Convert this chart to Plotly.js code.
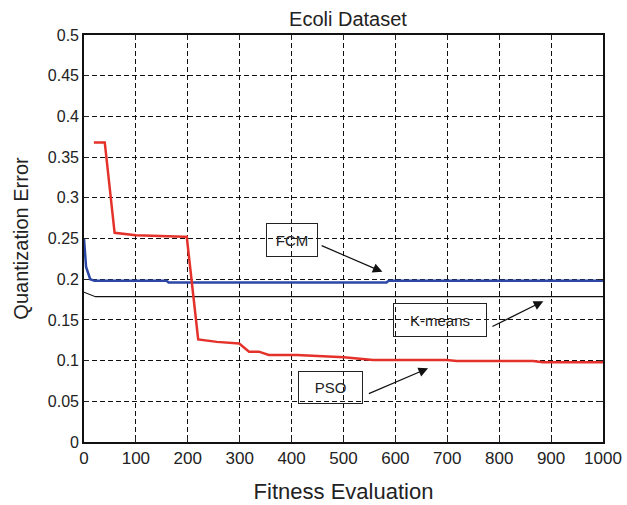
<!DOCTYPE html>
<html>
<head>
<meta charset="utf-8">
<script src="https://cdn.plot.ly/plotly-3.0.1.min.js"></script>
<style>html,body{margin:0;padding:0;background:#fff;}#chart{width:627px;height:505px;}</style>
</head>
<body>
<div id="chart"></div>
<script>
// Data
const psoX = [19, 40, 59, 100, 193, 198, 220, 256, 299, 318, 337, 356, 410, 449, 501, 557, 699, 718, 865, 884, 1000];
const psoY = [0.368, 0.368, 0.257, 0.254, 0.252, 0.252, 0.126, 0.123, 0.121, 0.111, 0.111, 0.107, 0.107, 0.1056, 0.104, 0.1007, 0.1007, 0.0995, 0.0995, 0.098, 0.098];
const fcmX = [0, 4, 12, 20, 159, 163, 583, 587, 1000];
const fcmY = [0.25, 0.215, 0.2, 0.198, 0.198, 0.196, 0.196, 0.198, 0.198];
const kmX = [0, 22, 1000];
const kmY = [0.184, 0.1785, 0.1785];
const xTicks = [0, 100, 200, 300, 400, 500, 600, 700, 800, 900, 1000];
const yTicks = [0, 0.05, 0.1, 0.15, 0.2, 0.25, 0.3, 0.35, 0.4, 0.45, 0.5];
const yTickText = ['0', '0.05', '0.1', '0.15', '0.2', '0.25', '0.3', '0.35', '0.4', '0.45', '0.5'];
const labels = [
  {name: 'FCM', x: 400, y: 0.2478, w: 50, h: 32, tipX: 575, tipY: 0.209, tailX: 455, tailY: 0.242},
  {name: 'K-means', x: 685, y: 0.1495, w: 92, h: 32, tipX: 885, tipY: 0.173, tailX: 784, tailY: 0.141},
  {name: 'PSO', x: 475.5, y: 0.0665, w: 63, h: 31, tipX: 663, tipY: 0.0905, tailX: 546, tailY: 0.0586}
];

const font = 'Liberation Sans, Arial, Helvetica, sans-serif';

const traces = [
  {x: fcmX, y: fcmY, mode: 'lines', line: {color: '#2c47a6', width: 2.5}, name: 'FCM'},
  {x: kmX, y: kmY, mode: 'lines', line: {color: '#111', width: 1.2}, name: 'K-means'},
  {x: psoX, y: psoY, mode: 'lines', line: {color: '#e4322b', width: 2.5}, name: 'PSO'}
];

const annotations = [];
labels.forEach(l => {
  annotations.push({
    x: l.x, y: l.y, xref: 'x', yref: 'y', text: l.name, showarrow: false,
    width: l.w, height: l.h, bordercolor: '#222', borderwidth: 1, borderpad: 0,
    font: {family: font, size: 15, color: '#222'}, xanchor: 'center', yanchor: 'middle'
  });
  annotations.push({
    x: l.tipX, y: l.tipY, xref: 'x', yref: 'y', ax: l.tailX, ay: l.tailY, axref: 'x', ayref: 'y',
    text: ' ', font: {size: 1}, showarrow: true, arrowhead: 2, arrowsize: 1.6, arrowwidth: 1.2,
    arrowcolor: '#111', standoff: 0, startstandoff: 0
  });
});

const layout = {
  width: 627, height: 505,
  margin: {l: 84, r: 24, t: 35, b: 63},
  paper_bgcolor: '#fff', plot_bgcolor: '#fff',
  showlegend: false,
  font: {family: font, color: '#222'},
  title: {text: 'Ecoli Dataset', font: {family: font, size: 20, color: '#222'}, x: 0.555, xanchor: 'center', y: 0.962, yanchor: 'middle'},
  xaxis: {
    range: [0, 1000], tickvals: xTicks, ticktext: xTicks.map(String),
    ticks: 'inside', ticklen: 5, tickcolor: '#222', mirror: 'ticks',
    showline: true, linecolor: '#111', linewidth: 1.8,
    showgrid: true, gridcolor: '#111', gridwidth: 1, griddash: '5px,3px',
    zeroline: false, tickfont: {family: font, size: 17, color: '#222'},
    title: {text: 'Fitness Evaluation', font: {family: font, size: 22, color: '#222'}, standoff: 16}
  },
  yaxis: {
    range: [0, 0.5], tickvals: yTicks, ticktext: yTickText,
    ticks: 'inside', ticklen: 5, tickcolor: '#222', mirror: 'ticks',
    showline: true, linecolor: '#111', linewidth: 1.8,
    showgrid: true, gridcolor: '#111', gridwidth: 1, griddash: '5px,3px',
    zeroline: false, tickfont: {family: font, size: 16, color: '#222'},
    title: {text: 'Quantization Error', font: {family: font, size: 20, color: '#222'}, standoff: 14}
  },
  annotations: annotations
};

Plotly.newPlot('chart', traces, layout, {displayModeBar: false, staticPlot: true});
</script>
</body>
</html>
